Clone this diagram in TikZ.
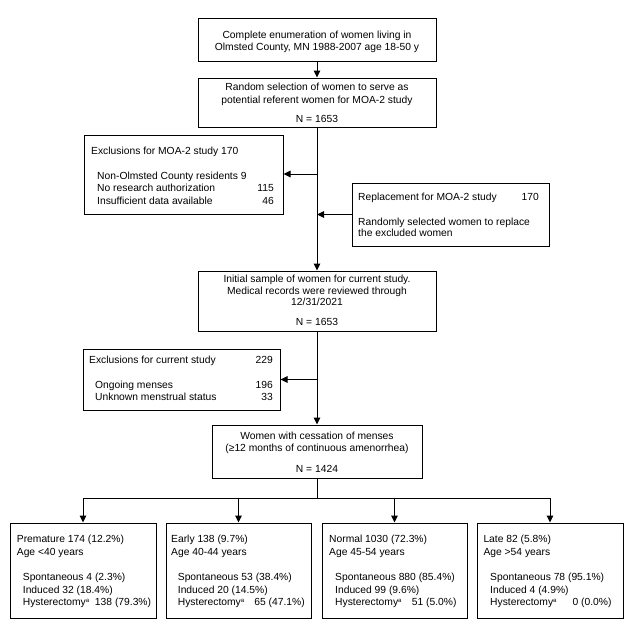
\documentclass[tikz,border=0pt]{standalone}
\usepackage{fontspec}
\setmainfont{Liberation Sans}
\usetikzlibrary{arrows.meta}
\newcommand{\supa}{\raisebox{2.8pt}{\fontsize{6}{6}\selectfont a}}
\begin{document}
\begin{tikzpicture}[x=1pt,y=-1pt,
  box/.style={draw, line width=1pt, inner sep=0pt},
  txt/.style={inner sep=0pt, font=\fontsize{10.3}{12}\selectfont},
  tl/.style={txt, anchor=base west},
  tc/.style={txt, anchor=base},
  tr/.style={txt, anchor=base east},
  ln/.style={line width=1pt},
  arr/.style={ln, -{Triangle[length=7pt,width=6.5pt]}}]
\fill[white] (0,0) rectangle (632,632);
\useasboundingbox (0,0) rectangle (632,632);
% boxes
\node[box, minimum width=238pt, minimum height=43pt] (b1) at (317,39.5) {};
\node[box, minimum width=238pt, minimum height=49pt] (b2) at (317,102.5) {};
\node[box, minimum width=199pt, minimum height=79pt] (ex1) at (183.5,175) {};
\node[box, minimum width=197pt, minimum height=63pt] (rep) at (450.5,214.5) {};
\node[box, minimum width=238pt, minimum height=60pt] (b4) at (317,301) {};
\node[box, minimum width=197pt, minimum height=61pt] (ex2) at (181.5,379.5) {};
\node[box, minimum width=210pt, minimum height=53pt] (b6) at (317,451.5) {};
\node[box, minimum width=146pt, minimum height=95pt] (p1) at (83,570.5) {};
\node[box, minimum width=145pt, minimum height=95pt] (p2) at (238.5,570.5) {};
\node[box, minimum width=145pt, minimum height=95pt] (p3) at (394.5,570.5) {};
\node[box, minimum width=146pt, minimum height=95pt] (p4) at (550,570.5) {};
% texts
\node[tc] (t11) at (317,38) {Complete enumeration of women living in};
\node[tc] (t12) at (317,50) {Olmsted County, MN 1988-2007 age 18-50 y};
\node[tc] (t21) at (317,90.7) {Random selection of women to serve as};
\node[tc] (t22) at (317,103) {potential referent women for MOA-2 study};
\node[tc] (t23) at (317,122) {N = 1653};
\node[tl] (e11) at (91,154) {Exclusions for MOA-2 study 170};
\node[tl] (e12) at (97,179) {Non-Olmsted County residents 9};
\node[tl] (e13) at (97,191.5) {No research authorization};
\node[tr] (e13n) at (274,191.5) {115};
\node[tl] (e14) at (97,204) {Insufficient data available};
\node[tr] (e14n) at (274,204) {46};
\node[tl] (r1) at (358,200) {Replacement for MOA-2 study};
\node[tr] (r1n) at (539,200) {170};
\node[tl] (r2) at (358,225) {Randomly selected women to replace};
\node[tl] (r3) at (358,236.5) {the excluded women};
\node[tc] (t41) at (317,282.3) {Initial sample of women for current study.};
\node[tc] (t42) at (317,294) {Medical records were reviewed through};
\node[tc] (t43) at (317,305.7) {12/31/2021};
\node[tc] (t44) at (317,325.5) {N = 1653};
\node[tl] (e21) at (89,363.5) {Exclusions for current study};
\node[tr] (e21n) at (273,363.5) {229};
\node[tl] (e22) at (95,388) {Ongoing menses};
\node[tr] (e22n) at (273,388) {196};
\node[tl] (e23) at (95,400) {Unknown menstrual status};
\node[tr] (e23n) at (273,400) {33};
\node[tc] (t61) at (317,439.3) {Women with cessation of menses};
\node[tc] (t62) at (317,451.3) {(≥12 months of continuous amenorrhea)};
\node[tc] (t63) at (317,472.3) {N = 1424};
% bottom boxes
\node[tl] (p11) at (16.7,542.5) {Premature 174 (12.2\%)};
\node[tl] (p12) at (16.7,555) {Age <40 years};
\node[tl] (p13) at (22.7,580.5) {Spontaneous 4 (2.3\%)};
\node[tl] (p14) at (22.7,593) {Induced 32 (18.4\%)};
\node[tl] (p15) at (22.7,605.5) {Hysterectomy\supa};
\node[tr] (p15n) at (151.3,605.5) {138 (79.3\%)};
\node[tl] (p21) at (171,542.5) {Early 138 (9.7\%)};
\node[tl] (p22) at (171,555) {Age 40-44 years};
\node[tl] (p23) at (177.7,580.5) {Spontaneous 53 (38.4\%)};
\node[tl] (p24) at (177.7,593) {Induced 20 (14.5\%)};
\node[tl] (p25) at (177.7,605.5) {Hysterectomy\supa};
\node[tr] (p25n) at (305,605.5) {65 (47.1\%)};
\node[tl] (p31) at (329,542.5) {Normal 1030 (72.3\%)};
\node[tl] (p32) at (329,555) {Age 45-54 years};
\node[tl] (p33) at (335,580.5) {Spontaneous 880 (85.4\%)};
\node[tl] (p34) at (335,593) {Induced 99 (9.6\%)};
\node[tl] (p35) at (335,605.5) {Hysterectomy\supa};
\node[tr] (p35n) at (456.7,605.5) {51 (5.0\%)};
\node[tl] (p41) at (483.3,542.5) {Late 82 (5.8\%)};
\node[tl] (p42) at (483.3,555) {Age >54 years};
\node[tl] (p43) at (490,580.5) {Spontaneous 78 (95.1\%)};
\node[tl] (p44) at (490,593) {Induced 4 (4.9\%)};
\node[tl] (p45) at (490,605.5) {Hysterectomy\supa};
\node[tr] (p45n) at (611.7,605.5) {0 (0.0\%)};
% connectors
\draw[arr] (b1.south) -- (b2.north);
\draw[arr] (b2.south) -- (b4.north);
\coordinate (j1) at (317,174);
\draw[arr] (j1) -- (j1 -| ex1.east);
\draw[arr] (rep.west) -- (rep.west -| b2.south);
\draw[arr] (b4.south) -- (b6.north);
\draw[arr] (b4.south |- ex2.east) -- (ex2.east);
\coordinate (hb) at (317,498);
\draw[ln] (b6.south) -- (hb);
\draw[ln] (p1.north |- hb) -- (p4.north |- hb);
\draw[arr] (p1.north |- hb) -- (p1.north);
\draw[arr] (p2.north |- hb) -- (p2.north);
\draw[arr] (p3.north |- hb) -- (p3.north);
\draw[arr] (p4.north |- hb) -- (p4.north);
\end{tikzpicture}
\end{document}
